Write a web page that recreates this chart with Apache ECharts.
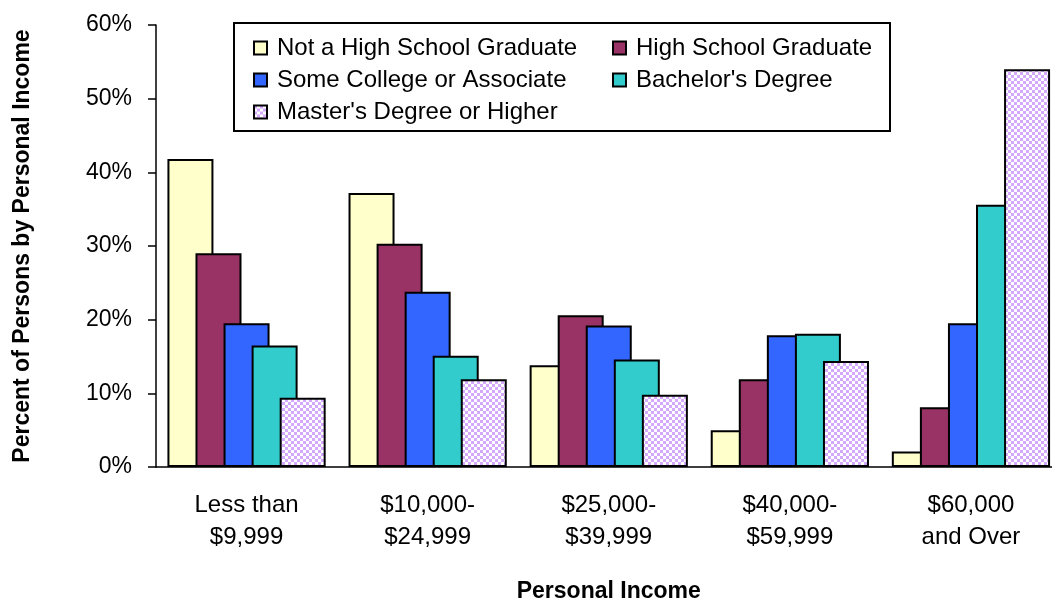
<!DOCTYPE html>
<html lang="en">
<head>
    <meta charset="UTF-8">
    <title>Personal Income by Education</title>
    <script src="https://cdn.jsdelivr.net/npm/echarts@6/dist/echarts.min.js"></script>
    <style>
        html, body { margin: 0; padding: 0; background: #fff; }
        #chart { width: 1052px; height: 603px; }
    </style>
</head>
<body>
    <div id="chart"></div>
    <script>
        // categories and tick labels
        var categories = ['Less than\n$9,999', '$10,000-\n$24,999', '$25,000-\n$39,999', '$40,000-\n$59,999', '$60,000\nand Over'];
        var yTicks = [0, 10, 20, 30, 40, 50, 60];

        // percent of persons
        var notHighSchool = [41.8, 37.2, 13.8, 5.0, 2.1];
        var highSchool = [29.0, 30.3, 20.6, 11.9, 8.1];
        var someCollege = [19.5, 23.8, 19.2, 17.9, 19.5];
        var bachelors = [16.5, 15.1, 14.6, 18.1, 35.6];
        var masters = [9.4, 11.9, 9.8, 14.4, 54.0];

        var seriesNames = ['Not a High School Graduate', 'High School Graduate', 'Some College or Associate', "Bachelor's Degree", "Master's Degree or Higher"];

        // checker pattern for the master's bars
        var tile = document.createElement('canvas');
        tile.width = 6;
        tile.height = 6;
        var ctx = tile.getContext('2d');
        ctx.fillStyle = '#ffffff';
        ctx.fillRect(0, 0, 6, 6);
        ctx.fillStyle = '#d4a8ff';
        ctx.fillRect(0, 0, 3, 3);
        ctx.fillRect(3, 3, 3, 3);

        var fills = ['#ffffcc', '#993366', '#3366ff', '#33cccc', { image: tile, repeat: 'repeat' }];
        var values = [notHighSchool, highSchool, someCollege, bachelors, masters];

        var series = [];
        for (var i = 0; i < values.length; i++) {
            series.push({
                name: seriesNames[i],
                type: 'bar',
                barWidth: 46,
                barGap: '-39%',
                itemStyle: { color: fills[i], borderColor: '#000', borderWidth: 2 },
                emphasis: { disabled: true },
                data: values[i]
            });
        }

        var myChart = echarts.init(document.getElementById('chart'));
        var legendText = { fontFamily: 'Liberation Sans, Arial, sans-serif', fontSize: 24, color: '#000', padding: [0, 0, 0, 5] };

        var option = {
            animation: false,
            textStyle: { fontFamily: 'Liberation Sans, Arial, sans-serif' },
            grid: { left: 156, top: 25, right: -9.5, bottom: 136, containLabel: false, outerBoundsMode: 'none' },
            graphic: [{
                type: 'rect',
                left: 233,
                top: 22,
                shape: { width: 656, height: 108 },
                style: { fill: '#fff', stroke: '#000', lineWidth: 2 },
                z: 5
            }],
            legend: [{
                orient: 'vertical',
                left: 253,
                top: 36,
                padding: 0,
                itemWidth: 13,
                itemHeight: 13,
                itemGap: 8,
                icon: 'rect',
                textStyle: legendText,
                data: [seriesNames[0], seriesNames[2], seriesNames[4]],
                z: 10
            }, {
                orient: 'vertical',
                left: 612,
                top: 36,
                padding: 0,
                itemWidth: 13,
                itemHeight: 13,
                itemGap: 8,
                icon: 'rect',
                textStyle: legendText,
                data: [seriesNames[1], seriesNames[3]],
                z: 10
            }],
            xAxis: {
                type: 'category',
                data: categories,
                name: 'Personal Income',
                nameLocation: 'middle',
                nameGap: 113,
                nameTextStyle: { fontSize: 23, fontWeight: 'bold', color: '#000' },
                axisLine: { lineStyle: { color: '#000', width: 1.5 } },
                axisTick: { length: 8, lineStyle: { color: '#000', width: 1.5 } },
                axisLabel: { fontSize: 24, color: '#000', lineHeight: 32, margin: 22 }
            },
            yAxis: {
                type: 'value',
                min: yTicks[0],
                max: yTicks[yTicks.length - 1],
                interval: 10,
                name: 'Percent of Persons by Personal Income',
                nameLocation: 'middle',
                nameGap: 122,
                nameTextStyle: { fontSize: 23, fontWeight: 'bold', color: '#000' },
                axisLine: { show: true, lineStyle: { color: '#000', width: 1.5 } },
                axisTick: { show: true, length: 8, lineStyle: { color: '#000', width: 1.5 } },
                axisLabel: { fontSize: 23, color: '#000', margin: 24, formatter: '{value}%' },
                splitLine: { show: false }
            },
            series: series
        };
        myChart.setOption(option);
    </script>
</body>
</html>
